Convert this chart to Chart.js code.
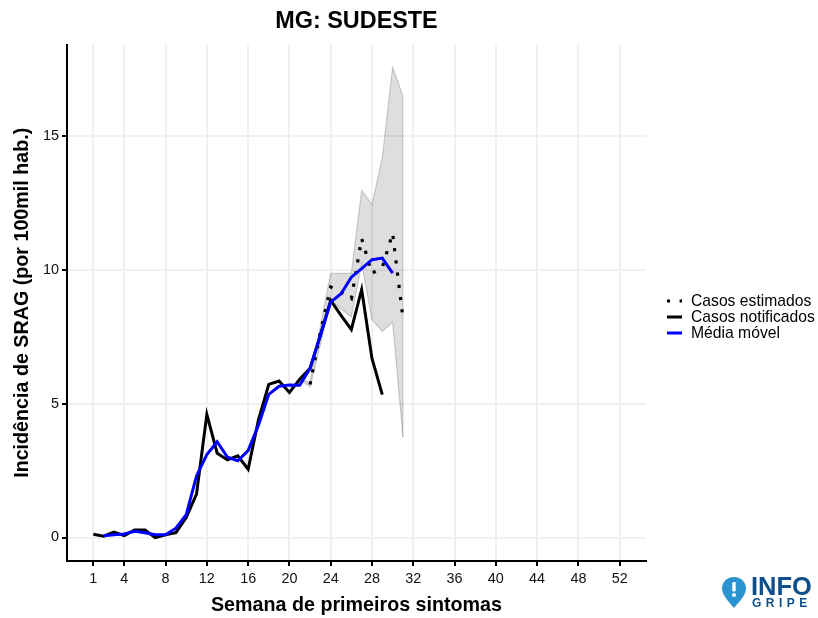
<!DOCTYPE html>
<html>
<head>
<meta charset="utf-8">
<script src="https://cdn.jsdelivr.net/npm/chart.js@4"></script>
<style>
  body { margin: 0; background: #fff; font-family: "Liberation Sans", sans-serif; }
  #wrap { position: relative; width: 818px; height: 618px; overflow: hidden; }
  canvas { position: absolute; left: 0; top: 0; }
  .leg { position: absolute; left: 691px; font-size: 15.7px; line-height: 16px; color: #000; white-space: nowrap; }
  .key { position: absolute; left: 666px; }
  .logo1 { position: absolute; left: 751px; top: 571px; font-size: 25.5px; line-height: 30px; font-weight: bold; color: #0d4f8b; }
  .logo2 { position: absolute; left: 752px; top: 596px; font-size: 12px; line-height: 14px; font-weight: bold; color: #0d4f8b; letter-spacing: 4.5px; }
</style>
</head>
<body>
<div id="wrap">
  <canvas id="chart" width="818" height="618"></canvas>

  <svg class="key" style="top:294px" width="18" height="14"><line x1="1" x2="16" y1="7" y2="7" stroke="#000" stroke-width="3" stroke-dasharray="3 9.6"/></svg>
  <div class="leg" style="top:293px">Casos estimados</div>
  <svg class="key" style="top:310px" width="18" height="14"><line x1="1" x2="16" y1="7" y2="7" stroke="#000" stroke-width="3"/></svg>
  <div class="leg" style="top:309px">Casos notificados</div>
  <svg class="key" style="top:326px" width="18" height="14"><line x1="1" x2="16" y1="7" y2="7" stroke="#0000ff" stroke-width="3"/></svg>
  <div class="leg" style="top:325px">Média móvel</div>

  <svg style="position:absolute;left:721px;top:576px" width="26" height="33" viewBox="0 0 26 33">
    <path d="M13 1 C5.5 1 1 6.5 1 12.5 C1 19 8 26 13 32 C18 26 25 19 25 12.5 C25 6.5 20.5 1 13 1 Z" fill="#2a94d0"/>
    <rect x="11.3" y="6" width="3.4" height="9.5" rx="1.2" fill="#fff"/>
    <circle cx="13" cy="19" r="2" fill="#fff"/>
  </svg>
  <div class="logo1">INFO</div>
  <div class="logo2">GRIPE</div>
</div>

<script>
const weeks = [1,2,3,4,5,6,7,8,9,10,11,12,13,14,15,16,17,18,19,20,21,22,23,24,25,26,27,28,29,30,31];
const notified = [0.12,0.05,0.2,0.07,0.28,0.28,0.0,0.1,0.18,0.75,1.62,4.6,3.15,2.9,3.05,2.55,4.4,5.72,5.85,5.42,5.91,6.32,7.56,8.86,8.3,7.77,9.27,6.69,5.34,null,null];
const movingAvg = [null,0.07,0.1,0.13,0.23,0.18,0.1,0.1,0.35,0.85,2.3,3.1,3.58,3.0,2.87,3.25,4.2,5.35,5.65,5.7,5.69,6.32,7.56,8.8,9.11,9.73,10.05,10.38,10.44,9.88,null];
const estimated = [null,null,null,null,null,null,null,null,null,null,null,null,null,null,null,null,null,null,null,null,null,5.72,7.68,9.36,9.17,8.93,11.17,9.87,10.1,11.37,8.19];
const upperBound = [null,null,null,null,null,null,null,null,null,null,null,null,null,null,null,null,null,null,null,null,5.9,5.8,7.9,9.87,9.87,9.87,12.97,12.44,14.2,17.57,16.5];
const lowerBound = [null,null,null,null,null,null,null,null,null,null,null,null,null,null,null,null,null,null,null,null,5.9,5.63,7.2,8.85,8.55,8.24,10.24,8.15,7.7,8.05,3.76];
const xTicks = [1,4,8,12,16,20,24,28,32,36,40,44,48,52];
const yTicks = [0,5,10,15];

const toPoints = (values) => weeks.map((w, i) => ({ x: w, y: values[i] }));
const lastWeek = weeks[weeks.length - 1];
const lastIdx = weeks.length - 1;

const axisFont = { family: "Liberation Sans", size: 14.4 };
const titleFont = { family: "Liberation Sans", size: 19.7, weight: "bold" };

new Chart(document.getElementById("chart"), {
  type: "line",
  data: {
    datasets: [
      {
        label: "Limite superior",
        data: toPoints(upperBound),
        borderColor: "rgba(0,0,0,0.18)",
        borderWidth: 1.2,
        backgroundColor: "rgba(0,0,0,0.13)",
        fill: "+1",
        pointRadius: 0,
        order: 5,
      },
      {
        label: "Limite inferior",
        data: toPoints(lowerBound),
        borderColor: "rgba(0,0,0,0.18)",
        borderWidth: 1.2,
        fill: false,
        pointRadius: 0,
        order: 5,
      },
      {
        label: "Borda",
        data: [
          { x: lastWeek, y: upperBound[lastIdx] },
          { x: lastWeek, y: lowerBound[lastIdx] },
        ],
        borderColor: "rgba(0,0,0,0.18)",
        borderWidth: 1.2,
        fill: false,
        pointRadius: 0,
        order: 5,
      },
      {
        label: "Casos estimados",
        data: toPoints(estimated),
        borderColor: "#000",
        borderWidth: 3.2,
        borderDash: [3.2, 9.1],
        fill: false,
        pointRadius: 0,
        order: 3,
      },
      {
        label: "Casos notificados",
        data: toPoints(notified),
        borderColor: "#000",
        borderWidth: 3,
        fill: false,
        pointRadius: 0,
        order: 2,
      },
      {
        label: "Média móvel",
        data: toPoints(movingAvg),
        borderColor: "#0000ff",
        borderWidth: 3,
        fill: false,
        pointRadius: 0,
        order: 1,
      },
    ],
  },
  options: {
    responsive: false,
    animation: false,
    layout: { padding: { top: 0, right: 172, bottom: 0, left: 0 } },
    elements: { line: { tension: 0, borderJoinStyle: "miter", borderCapStyle: "butt" } },
    plugins: {
      legend: { display: false },
      tooltip: { enabled: false },
      title: {
        display: true,
        text: "MG: SUDESTE",
        fullSize: false,
        color: "#000",
        font: { family: "Liberation Sans", size: 23.4, weight: "bold" },
        padding: { top: 8, bottom: 8.5 },
      },
    },
    scales: {
      x: {
        type: "linear",
        min: -1.55,
        max: 54.55,
        afterBuildTicks: (scale) => {
          scale.ticks = xTicks.map((v) => ({ value: v }));
        },
        afterFit: (scale) => {
          scale.height = 57;
        },
        grid: { color: "#f0f0f0", lineWidth: 2, tickColor: "#000", tickWidth: 2, tickLength: 5 },
        border: { color: "#000", width: 2 },
        ticks: { color: "#111", font: axisFont, maxRotation: 0, autoSkip: false, padding: 4, callback: (v) => v },
        title: {
          display: true,
          text: "Semana de primeiros sintomas",
          color: "#000",
          font: titleFont,
          padding: { top: 0, bottom: 1 },
        },
      },
      y: {
        min: -0.878,
        max: 18.42,
        afterBuildTicks: (scale) => {
          scale.ticks = yTicks.map((v) => ({ value: v }));
        },
        afterFit: (scale) => {
          scale.width = 67;
        },
        grid: { color: "#f0f0f0", lineWidth: 2, tickColor: "#000", tickWidth: 2, tickLength: 5 },
        border: { color: "#000", width: 2 },
        ticks: { color: "#111", font: axisFont, padding: 3, callback: (v) => v },
        title: {
          display: true,
          text: "Incidência de SRAG (por 100mil hab.)",
          color: "#000",
          font: titleFont,
          padding: { top: 11, bottom: 0 },
        },
      },
    },
  },
});
</script>
</body>
</html>
